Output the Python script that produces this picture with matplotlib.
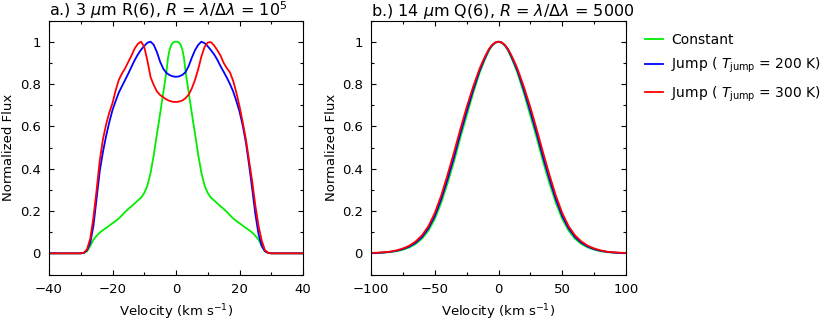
import numpy as np
import matplotlib
matplotlib.use('Agg')
import matplotlib.pyplot as plt
from matplotlib.ticker import MultipleLocator, FuncFormatter

plt.rcParams['font.family'] = ['DejaVu Sans']
plt.rcParams['mathtext.fontset'] = 'dejavusans'

# ---- panel a: 3 um R(6), R = 1e5 ----
v_jump = np.concatenate([[-40], np.arange(-30, 31), [40]])
flux_200 = [0.0,
            0.0, 0.002, 0.015, 0.05, 0.13, 0.26, 0.39, 0.48, 0.555, 0.62,
            0.677, 0.72, 0.76, 0.79, 0.82, 0.85, 0.882, 0.913, 0.94, 0.962,
            0.98, 0.995, 1.0, 0.985, 0.95, 0.905, 0.872, 0.852, 0.842, 0.836,
            0.834,
            0.836, 0.843, 0.856, 0.885, 0.925, 0.96, 0.985, 1.0, 0.993, 0.978,
            0.96, 0.94, 0.915, 0.885, 0.858, 0.83, 0.8, 0.765, 0.72, 0.67,
            0.605, 0.525, 0.42, 0.305, 0.185, 0.09, 0.035, 0.01, 0.002, 0.0,
            0.0]
flux_300 = [0.0,
            0.0, 0.003, 0.02, 0.07, 0.17, 0.30, 0.44, 0.54, 0.61, 0.665,
            0.71, 0.77, 0.82, 0.85, 0.875, 0.905, 0.935, 0.968, 0.99, 1.0,
            0.975, 0.91, 0.832, 0.795, 0.765, 0.748, 0.737, 0.727, 0.72, 0.716,
            0.715,
            0.717, 0.722, 0.733, 0.75, 0.78, 0.82, 0.87, 0.93, 0.975, 0.996,
            0.998, 0.982, 0.96, 0.935, 0.9, 0.875, 0.855, 0.815, 0.76, 0.695,
            0.62, 0.54, 0.44, 0.34, 0.225, 0.13, 0.06, 0.015, 0.003, 0.0,
            0.0]

# constant profile, half (v >= 0), mirrored below
v_const_half = [0, 0.5, 1, 1.5, 2, 2.5, 3, 3.5, 4, 4.5, 5, 5.5, 6, 7, 8, 9, 10,
                11, 12, 13, 14, 15, 16, 17, 18, 19, 20, 21, 22, 23, 24, 25, 26,
                27, 28, 29, 30, 40]
flux_const_half = [1.0, 0.999, 0.995, 0.984, 0.963, 0.925, 0.86, 0.81, 0.76,
                   0.71, 0.66, 0.61, 0.565, 0.465, 0.38, 0.32, 0.285, 0.263,
                   0.25, 0.236, 0.223, 0.21, 0.196, 0.18, 0.165, 0.153, 0.142,
                   0.131, 0.12, 0.11, 0.098, 0.083, 0.065, 0.035, 0.01, 0.002,
                   0.0, 0.0]

# ---- panel b: 14 um Q(6), R = 5000 (half profiles, mirrored) ----
v_b_half = [0, 2.5, 5, 7.5, 10, 12.5, 15, 20, 25, 30, 35, 40, 45, 50, 55, 60,
            65, 70, 75, 80, 85, 90, 95, 100]
fb_300 = [1.0, 0.996, 0.985, 0.965, 0.937, 0.905, 0.87, 0.785, 0.69, 0.585,
          0.475, 0.37, 0.272, 0.19, 0.128, 0.085, 0.056, 0.036, 0.023, 0.014,
          0.008, 0.005, 0.003, 0.002]
fb_200 = [1.0, 0.996, 0.983, 0.962, 0.931, 0.897, 0.86, 0.77, 0.67, 0.565,
          0.453, 0.35, 0.255, 0.176, 0.118, 0.077, 0.05, 0.032, 0.02, 0.012,
          0.007, 0.004, 0.002, 0.001]
fb_const = [1.0, 0.995, 0.981, 0.958, 0.925, 0.889, 0.85, 0.755, 0.65, 0.545,
            0.432, 0.33, 0.238, 0.162, 0.107, 0.069, 0.044, 0.028, 0.017,
            0.010, 0.006, 0.003, 0.002, 0.001]


def mirror(v, f):
    v = np.asarray(v, float)
    f = np.asarray(f, float)
    return np.concatenate([-v[::-1], v[1:]]), np.concatenate([f[::-1], f[1:]])


GREEN = '#00ee00'
BLUE = '#0000ff'
RED = '#ff0000'
LW = 1.3

fig = plt.figure(figsize=(8.3, 3.22), dpi=100)
ax1 = fig.add_axes([49/830, 47.5/322, 254/830, 254/322])
ax2 = fig.add_axes([371/830, 47.5/322, 255/830, 254/322])

vc, fc = mirror(v_const_half, flux_const_half)
ax1.plot(vc, fc, color=GREEN, lw=LW, label='Constant')
ax1.plot(v_jump, flux_200, color=BLUE, lw=LW,
         label=r'Jump ( $T_{\rm jump}$ = 200 K)')
ax1.plot(v_jump, flux_300, color=RED, lw=LW,
         label=r'Jump ( $T_{\rm jump}$ = 300 K)')

for f, c in [(fb_const, GREEN), (fb_200, BLUE), (fb_300, RED)]:
    vv, ff = mirror(v_b_half, f)
    ax2.plot(vv, ff, color=c, lw=LW)

ax1.set_xlim(-40, 40)
ax1.xaxis.set_major_locator(MultipleLocator(20))
ax1.xaxis.set_minor_locator(MultipleLocator(10))
ax2.set_xlim(-100, 100)
ax2.xaxis.set_major_locator(MultipleLocator(50))
ax2.xaxis.set_minor_locator(MultipleLocator(25))

fmt = FuncFormatter(lambda y, pos: '%g' % round(y, 2))
for ax in (ax1, ax2):
    ax.set_ylim(-0.1, 1.1)
    ax.yaxis.set_major_locator(MultipleLocator(0.2))
    ax.yaxis.set_minor_locator(MultipleLocator(0.1))
    ax.yaxis.set_major_formatter(fmt)
    ax.tick_params(which='both', direction='in', top=True, right=True,
                   labelsize=9.5, width=0.8)
    ax.tick_params(which='major', length=3.5, pad=6)
    ax.tick_params(which='minor', length=2.5)
    for s in ax.spines.values():
        s.set_linewidth(0.8)
    ax.set_xlabel(r'Velocity (km s$^{-1}$)', fontsize=9.5, labelpad=5)
    ax.set_ylabel('Normalized Flux', fontsize=9.5, labelpad=3)

ax1.set_title(r'a.) 3 $\mu$m R(6), $R$ = $\lambda/\Delta\lambda$ = 10$^5$',
              loc='left', fontsize=11.5, pad=2)
ax2.set_title(r'b.) 14 $\mu$m Q(6), $R$ = $\lambda/\Delta\lambda$ = 5000',
              loc='left', fontsize=11.5, pad=2)

fig.legend(*ax1.get_legend_handles_labels(), loc='upper left',
           bbox_to_anchor=(645/830, 1 - 33/322), frameon=False, fontsize=10,
           handlelength=1.3, handletextpad=0.6, labelspacing=0.65,
           borderpad=0, borderaxespad=0)

fig.savefig('out.png', dpi=100)
